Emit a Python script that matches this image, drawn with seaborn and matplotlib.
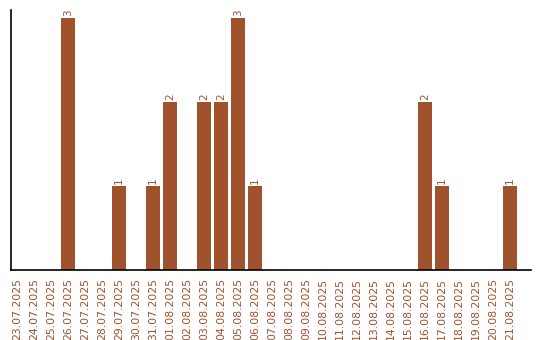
import matplotlib
matplotlib.use("Agg")
import matplotlib.pyplot as plt
import seaborn as sns
import pandas as pd

dates = ["23.07.2025", "24.07.2025", "25.07.2025", "26.07.2025", "27.07.2025",
         "28.07.2025", "29.07.2025", "30.07.2025", "31.07.2025", "01.08.2025",
         "02.08.2025", "03.08.2025", "04.08.2025", "05.08.2025", "06.08.2025",
         "07.08.2025", "08.08.2025", "09.08.2025", "10.08.2025", "11.08.2025",
         "12.08.2025", "13.08.2025", "14.08.2025", "15.08.2025", "16.08.2025",
         "17.08.2025", "18.08.2025", "19.08.2025", "20.08.2025", "21.08.2025"]
counts = [0, 0, 0, 3, 0, 0, 1, 0, 1, 2, 0, 2, 2, 3, 1,
          0, 0, 0, 0, 0, 0, 0, 0, 0, 2, 1, 0, 0, 0, 1]

df = pd.DataFrame({"date": dates, "count": counts})
color = "#a0522d"

sns.set_style("white")
fig = plt.figure(figsize=(5.4, 3.4), dpi=100)
ax = fig.add_axes([11/540, 70/340, 520/540, 260/340])
sns.barplot(data=df, x="date", y="count", color=color, saturation=1, width=0.84,
            linewidth=0, ax=ax)

for i, v in enumerate(counts):
    if v > 0:
        ax.text(i, v + 0.03, str(v), rotation=90, ha="center", va="bottom",
                fontsize=7.5, color=color)

ax.set_xlim(-0.35, 29.0 + 21/17)
ax.set_ylim(0, 3.1)
ax.set_yticks([])
ax.set_xlabel("")
ax.set_ylabel("")
ax.tick_params(axis="x", rotation=90, labelsize=7.8, labelcolor=color, length=0, pad=6)
for s in ["top", "right"]:
    ax.spines[s].set_visible(False)
for s in ["left", "bottom"]:
    ax.spines[s].set_color("black")
    ax.spines[s].set_linewidth(1.2)

fig.savefig("out.png", dpi=100)
